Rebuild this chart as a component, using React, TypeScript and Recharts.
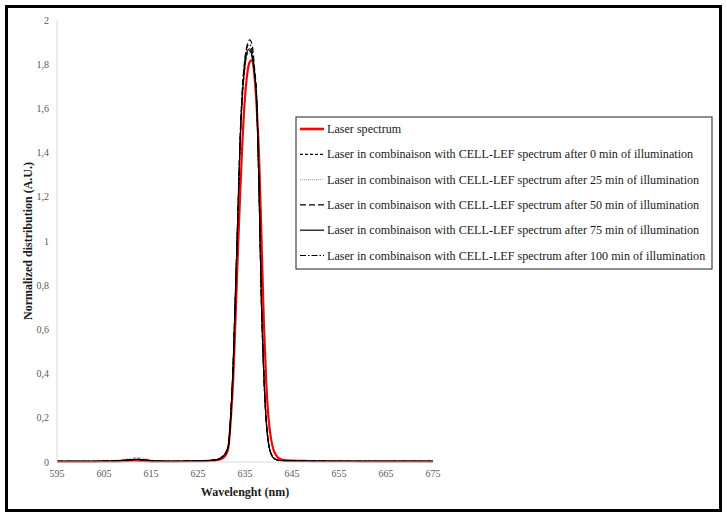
import React from 'react';
import { LineChart, Line, XAxis, YAxis } from 'recharts';

const wavelength = [595, 597, 599, 601, 603, 605, 607, 609, 610, 611, 612, 613, 614, 615, 617, 619, 621, 623, 625, 627, 628, 629, 629.5, 630, 630.5, 631, 631.5, 632, 632.5, 633, 633.5, 634, 634.5, 635, 635.5, 636, 636.5, 637, 637.5, 638, 638.5, 639, 639.5, 640, 640.5, 641, 641.5, 642, 643, 644, 645, 647, 650, 655, 660, 665, 670, 675];

const laser = [0.002, 0.002, 0.002, 0.002, 0.002, 0.003, 0.003, 0.004, 0.005, 0.006, 0.006, 0.005, 0.004, 0.003, 0.003, 0.003, 0.003, 0.004, 0.004, 0.005, 0.006, 0.008, 0.01, 0.014, 0.022, 0.035, 0.07, 0.2, 0.38, 0.66, 0.96, 1.23, 1.47, 1.65, 1.76, 1.81, 1.82, 1.75, 1.6, 1.38, 1.02, 0.64, 0.37, 0.2, 0.11, 0.06, 0.035, 0.02, 0.01, 0.007, 0.006, 0.005, 0.004, 0.004, 0.003, 0.003, 0.003, 0.002];

const cell0 = [0.003, 0.003, 0.003, 0.003, 0.003, 0.004, 0.005, 0.007, 0.009, 0.011, 0.012, 0.011, 0.009, 0.006, 0.004, 0.003, 0.003, 0.004, 0.005, 0.006, 0.008, 0.011, 0.014, 0.02, 0.03, 0.045, 0.08, 0.22, 0.45, 0.78, 1.12, 1.46, 1.67, 1.79, 1.85, 1.86, 1.83, 1.75, 1.62, 1.22, 0.72, 0.4, 0.19, 0.085, 0.04, 0.02, 0.012, 0.008, 0.006, 0.005, 0.005, 0.004, 0.004, 0.003, 0.003, 0.003, 0.003, 0.003];

const cell25 = [0.003, 0.003, 0.003, 0.003, 0.004, 0.005, 0.007, 0.011, 0.015, 0.019, 0.021, 0.019, 0.015, 0.009, 0.005, 0.004, 0.003, 0.004, 0.005, 0.006, 0.008, 0.011, 0.014, 0.02, 0.03, 0.045, 0.08, 0.22, 0.45, 0.78, 1.12, 1.45, 1.66, 1.78, 1.84, 1.85, 1.82, 1.74, 1.61, 1.21, 0.72, 0.4, 0.19, 0.085, 0.04, 0.02, 0.012, 0.008, 0.006, 0.005, 0.005, 0.004, 0.004, 0.003, 0.003, 0.003, 0.003, 0.003];

const cell50 = [0.003, 0.003, 0.003, 0.003, 0.003, 0.004, 0.005, 0.007, 0.009, 0.011, 0.012, 0.011, 0.009, 0.006, 0.004, 0.003, 0.003, 0.004, 0.005, 0.006, 0.008, 0.011, 0.014, 0.02, 0.03, 0.045, 0.08, 0.22, 0.45, 0.79, 1.14, 1.49, 1.71, 1.83, 1.89, 1.91, 1.89, 1.79, 1.64, 1.23, 0.73, 0.4, 0.19, 0.085, 0.04, 0.02, 0.012, 0.008, 0.006, 0.005, 0.005, 0.004, 0.004, 0.003, 0.003, 0.003, 0.003, 0.003];

const cell75 = [0.003, 0.003, 0.003, 0.003, 0.003, 0.004, 0.005, 0.007, 0.009, 0.011, 0.012, 0.011, 0.009, 0.006, 0.004, 0.003, 0.003, 0.004, 0.005, 0.006, 0.008, 0.011, 0.014, 0.02, 0.03, 0.045, 0.08, 0.22, 0.45, 0.78, 1.13, 1.47, 1.68, 1.8, 1.86, 1.87, 1.84, 1.76, 1.63, 1.22, 0.72, 0.4, 0.19, 0.085, 0.04, 0.02, 0.012, 0.008, 0.006, 0.005, 0.005, 0.004, 0.004, 0.003, 0.003, 0.003, 0.003, 0.003];

const cell100 = [0.003, 0.003, 0.003, 0.003, 0.003, 0.004, 0.005, 0.007, 0.009, 0.011, 0.012, 0.011, 0.009, 0.006, 0.004, 0.003, 0.003, 0.004, 0.005, 0.006, 0.008, 0.011, 0.014, 0.02, 0.03, 0.045, 0.08, 0.22, 0.45, 0.79, 1.13, 1.48, 1.7, 1.82, 1.88, 1.89, 1.86, 1.77, 1.63, 1.22, 0.72, 0.4, 0.19, 0.085, 0.04, 0.02, 0.012, 0.008, 0.006, 0.005, 0.005, 0.004, 0.004, 0.003, 0.003, 0.003, 0.003, 0.003];

const xTicks = [595, 605, 615, 625, 635, 645, 655, 665, 675];
const yTicks = [0, 0.2, 0.4, 0.6, 0.8, 1, 1.2, 1.4, 1.6, 1.8, 2];

const seriesNames = [
  'Laser spectrum',
  'Laser in combinaison with CELL-LEF spectrum after 0 min of illumination',
  'Laser in combinaison with CELL-LEF spectrum after 25 min of illumination',
  'Laser in combinaison with CELL-LEF spectrum after 50 min of illumination',
  'Laser in combinaison with CELL-LEF spectrum after 75 min of illumination',
  'Laser in combinaison with CELL-LEF spectrum after 100 min of illumination',
];

const seriesValues = [laser, cell0, cell25, cell50, cell75, cell100];
const seriesKeys = ['laser', 'cell0', 'cell25', 'cell50', 'cell75', 'cell100'];

const styles = [
  { color: '#ff0000', width: 2.2, dash: undefined as string | undefined, legendWidth: 2.6 },
  { color: '#000000', width: 1.2, dash: '3 2', legendWidth: 1.2 },
  { color: '#a0a0a0', width: 1, dash: '1 1', legendWidth: 1 },
  { color: '#000000', width: 1.2, dash: '6 3', legendWidth: 1.2 },
  { color: '#000000', width: 1.2, dash: undefined, legendWidth: 1.2 },
  { color: '#000000', width: 1.2, dash: '6 2 1.5 2', legendWidth: 1.2 },
];

const data = wavelength.map((w, i) => {
  const row: Record<string, number> = { w };
  seriesKeys.forEach((k, s) => {
    row[k] = seriesValues[s][i];
  });
  return row;
});

const FONT = '"Liberation Serif", "Times New Roman", serif';

function LegendBox() {
  const top = 12;
  const step = 25.3;
  return (
    <svg
      width={418}
      height={154}
      style={{ position: 'absolute', left: 295, top: 116, fontFamily: FONT }}
    >
      <rect x={1} y={1} width={416} height={152} fill="#ffffff" stroke="#444444" strokeWidth={1.2} />
      {seriesNames.map((name, i) => {
        const y = top + 1 + i * step;
        const st = styles[i];
        return (
          <g key={name}>
            <line
              x1={5}
              x2={29}
              y1={y}
              y2={y}
              stroke={st.color}
              strokeWidth={st.legendWidth}
              strokeDasharray={st.dash}
            />
            <text x={32} y={y} dominantBaseline="central" fontSize={12.1} fill="#1a1a1a">
              {name}
            </text>
          </g>
        );
      })}
    </svg>
  );
}

export default function App() {
  return (
    <div
      style={{
        position: 'absolute',
        left: 0,
        top: 0,
        width: 727,
        height: 519,
        background: '#ffffff',
        fontFamily: FONT,
      }}
    >
      <div
        style={{
          position: 'absolute',
          left: 5,
          top: 5,
          width: 717,
          height: 507,
          border: '3px solid #000',
          boxSizing: 'border-box',
        }}
      />
      <div style={{ position: 'absolute', left: 0, top: 0 }}>
        <LineChart
          width={727}
          height={519}
          data={data}
          margin={{ top: 20, right: 294, bottom: 27, left: 0 }}
          style={{ fontFamily: FONT }}
        >
          <XAxis
            dataKey="w"
            type="number"
            domain={[595, 675]}
            ticks={xTicks}
            tickLine={false}
            axisLine={{ stroke: '#d9d9d9', strokeWidth: 1 }}
            tick={{ fill: '#595959', fontSize: 10, fontFamily: FONT }}
            height={30}
            interval={0}
            label={{
              value: 'Wavelenght (nm)',
              position: 'bottom',
              offset: -5,
              style: { fontWeight: 'bold', fontSize: 12, fill: '#1a1a1a', fontFamily: FONT },
            }}
          />
          <YAxis
            type="number"
            domain={[0, 2]}
            ticks={yTicks}
            tickLine={false}
            axisLine={{ stroke: '#d9d9d9', strokeWidth: 1 }}
            tick={{ fill: '#595959', fontSize: 10, fontFamily: FONT }}
            tickFormatter={(v: number) => String(v).replace('.', ',')}
            width={57}
            interval={0}
            label={{
              value: 'Normalized distribution (A.U.)',
              angle: -90,
              position: 'center',
              dx: -1,
              style: { fontWeight: 'bold', fontSize: 12, fill: '#1a1a1a', fontFamily: FONT, textAnchor: 'middle' },
            }}
          />
          {seriesKeys.map((k, i) => (
            <Line
              key={k}
              dataKey={k}
              name={seriesNames[i]}
              type="monotone"
              stroke={styles[i].color}
              strokeWidth={styles[i].width}
              strokeDasharray={styles[i].dash}
              dot={false}
              activeDot={false}
              isAnimationActive={false}
            />
          ))}
        </LineChart>
      </div>
      <LegendBox />
    </div>
  );
}
